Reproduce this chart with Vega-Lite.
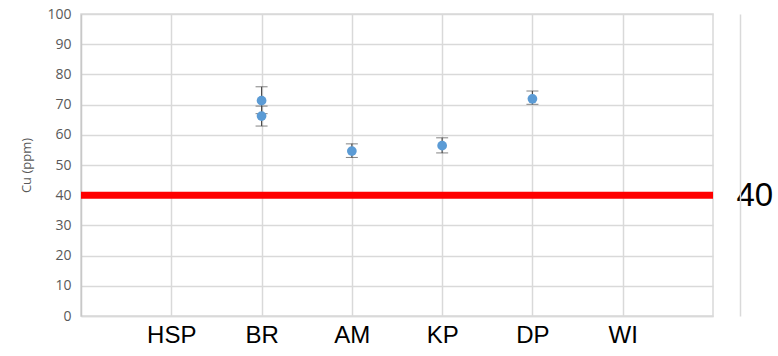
{
  "$schema": "https://vega.github.io/schema/vega-lite/v6.json",
  "autosize": "none",
  "width": 632,
  "height": 302,
  "padding": {"left": 81, "top": 14, "right": 65, "bottom": 40},
  "background": "white",
  "config": {
    "view": {"stroke": "#d9d9d9", "strokeWidth": 1.5},
    "font": "Liberation Sans"
  },
  "datasets": {
    "pts": [
      {"site": "BR", "cu": 71.3, "lo": 67.0, "hi": 75.9},
      {"site": "BR", "cu": 66.2, "lo": 62.9, "hi": 69.5},
      {"site": "AM", "cu": 54.6, "lo": 52.5, "hi": 57.0},
      {"site": "KP", "cu": 56.4, "lo": 54.0, "hi": 59.0},
      {"site": "DP", "cu": 71.9, "lo": 70.1, "hi": 74.5}
    ],
    "limit": [{"cu": 40}]
  },
  "layer": [
    {
      "data": {"name": "pts"},
      "mark": {"type": "errorbar", "ticks": {"size": 12, "color": "#4d4d4d", "strokeWidth": 1.5}, "rule": {"color": "#4d4d4d", "strokeWidth": 1.2}},
      "encoding": {
        "x": {
          "field": "site", "type": "nominal",
          "scale": {"type": "point", "domain": ["HSP", "BR", "AM", "KP", "DP", "WI"], "padding": 1},
          "axis": {
            "title": null, "labelAngle": 0, "labelFontSize": 24, "labelColor": "black",
            "labelFont": "Liberation Sans", "labelPadding": 7, "ticks": false,
            "domain": true, "domainColor": "#d9d9d9", "domainWidth": 1.5,
            "grid": true, "gridColor": "#d9d9d9", "gridWidth": 1.5
          }
        },
        "y": {
          "field": "lo", "type": "quantitative",
          "scale": {"domain": [0, 100], "nice": false},
          "axis": {
            "title": "Cu (ppm)", "titleFontSize": 13, "titleColor": "#595959", "titleFontWeight": "normal",
            "titleFont": "Open Sans", "titlePadding": 13,
            "values": [0, 10, 20, 30, 40, 50, 60, 70, 80, 90, 100],
            "labelFontSize": 14, "labelColor": "#595959", "labelFont": "Open Sans", "labelPadding": 10,
            "ticks": false, "domainColor": "#c8c8c8", "domainWidth": 1.5,
            "grid": true, "gridColor": "#d9d9d9", "gridWidth": 1.5
          }
        },
        "y2": {"field": "hi"}
      }
    },
    {
      "data": {"name": "pts"},
      "mark": {"type": "circle", "size": 95, "color": "#5B9BD5", "opacity": 1},
      "encoding": {
        "x": {"field": "site", "type": "nominal"},
        "y": {"field": "cu", "type": "quantitative", "axis": null}
      }
    },
    {
      "data": {"name": "limit"},
      "mark": {"type": "rule", "color": "#ff0000", "strokeWidth": 7, "x2Offset": 12, "clip": false},
      "encoding": {
        "y": {
          "field": "cu", "type": "quantitative",
          "axis": {
            "orient": "right", "title": null, "values": [40], "grid": false, "ticks": false,
            "labelFontSize": 33, "labelColor": "black", "labelFont": "Liberation Sans", "labelPadding": -4,
            "domain": true, "domainColor": "#d9d9d9", "domainWidth": 1.5, "offset": 27
          }
        }
      }
    }
  ],
  "resolve": {"axis": {"y": "independent"}}
}
